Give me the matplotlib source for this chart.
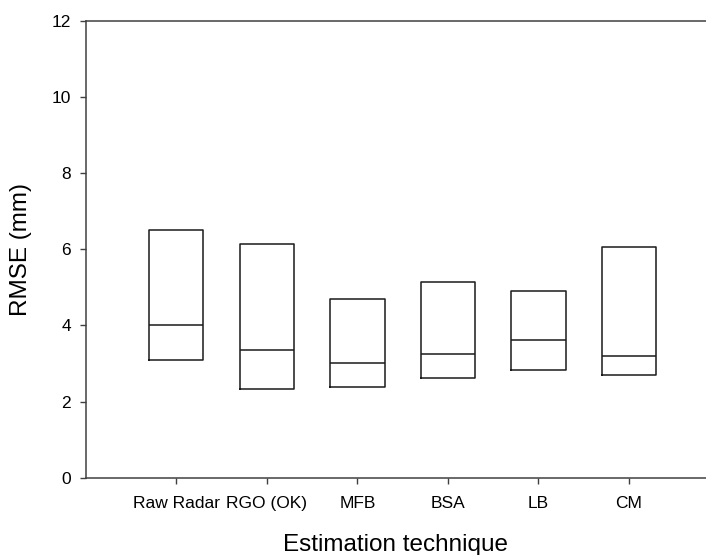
import matplotlib
matplotlib.use("Agg")
import matplotlib.pyplot as plt

plt.rcParams['font.family'] = ['Liberation Sans', 'DejaVu Sans']

# RMSE summary per estimation technique (quartiles and median, mm)
techniques = ["Raw Radar", "RGO (OK)", "MFB", "BSA", "LB", "CM"]
q1 = [3.08, 2.34, 2.37, 2.62, 2.83, 2.69]
median = [4.02, 3.35, 3.02, 3.26, 3.61, 3.21]
q3 = [6.51, 6.14, 4.70, 5.15, 4.91, 6.05]

fig = plt.figure(figsize=(7.06, 5.55), dpi=100)
ax = fig.add_axes([0.1214, 0.1393, 0.8786, 0.8229])

stats = []
for name, lo, med, hi in zip(techniques, q1, median, q3):
    stats.append(dict(label=name, q1=lo, med=med, q3=hi,
                      whislo=lo, whishi=hi, fliers=[]))

positions = list(range(1, len(techniques) + 1))
ax.bxp(stats, positions=positions, widths=0.6, showcaps=False,
       showfliers=False,
       boxprops=dict(color='#1a1a1a', linewidth=1.1),
       medianprops=dict(color='#1a1a1a', linewidth=1.1),
       whiskerprops=dict(linewidth=0))

ax.set_xlim(0, 6.85)
ax.set_ylim(0, 12)
ax.set_yticks(range(0, 13, 2))
ax.set_xticks(positions)
ax.set_xticklabels(techniques)

for side in ('left', 'bottom', 'top'):
    ax.spines[side].set_color('#404040')
    ax.spines[side].set_linewidth(1.1)
ax.spines['right'].set_visible(False)

ax.tick_params(axis='both', direction='out', length=4.5, width=1.0,
               color='#404040', labelsize=12.5)
ax.tick_params(axis='y', pad=6)
ax.tick_params(axis='x', pad=9)

ax.set_xlabel("Estimation technique", fontsize=17.5, labelpad=16)
ax.set_ylabel("RMSE (mm)", fontsize=17.5, labelpad=14)

fig.savefig("out.png", dpi=100)
